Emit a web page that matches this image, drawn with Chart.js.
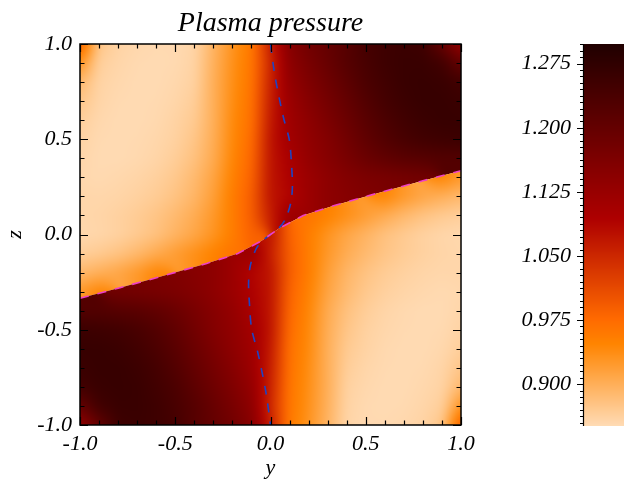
<!DOCTYPE html>
<html>
<head>
<meta charset="utf-8">
<title>Plasma pressure</title>
<script src="https://cdn.jsdelivr.net/npm/chart.js@4.4.0/dist/chart.umd.min.js"></script>
<style>
  html, body { margin: 0; padding: 0; background: #fff; }
  #wrap { position: relative; width: 624px; height: 483px; overflow: hidden; }
  #main { position: absolute; left: 0; top: 0; }
  #bar { position: absolute; left: 440px; top: 0; }
</style>
</head>
<body>
<div id="wrap">
  <canvas id="main" width="624" height="483"></canvas>
  <canvas id="bar" width="184" height="483"></canvas>
</div>
<script>
// grid columns (y) and rows (z, top to bottom)
const yCols = [-1.0, -0.9, -0.8, -0.7, -0.6, -0.5, -0.4, -0.3, -0.2, -0.1, 0.0,
               0.1, 0.2, 0.3, 0.4, 0.5, 0.6, 0.7, 0.8, 0.9, 1.0];
const zRows = [1.0, 0.9, 0.8, 0.7, 0.6, 0.5, 0.4, 0.3, 0.2, 0.1, 0.0,
               -0.1, -0.2, -0.3, -0.4, -0.5, -0.6, -0.7, -0.8, -0.9, -1.0];

// plasma pressure, one row per z
const pressure = [
  [0.99, 0.875, 0.86, 0.855, 0.853, 0.853, 0.858, 0.895, 0.93, 0.96, 1.06, 1.15, 1.18, 1.2, 1.22, 1.245, 1.255, 1.26, 1.255, 1.2, 1.13],
  [0.93, 0.865, 0.857, 0.853, 0.852, 0.853, 0.86, 0.898, 0.933, 0.963, 1.05, 1.14, 1.17, 1.195, 1.22, 1.24, 1.255, 1.262, 1.262, 1.25, 1.2],
  [0.89, 0.86, 0.855, 0.852, 0.852, 0.855, 0.862, 0.9, 0.935, 0.965, 1.055, 1.13, 1.16, 1.185, 1.21, 1.235, 1.25, 1.262, 1.265, 1.262, 1.25],
  [0.875, 0.858, 0.853, 0.852, 0.853, 0.857, 0.866, 0.9, 0.937, 0.968, 1.06, 1.12, 1.15, 1.175, 1.2, 1.225, 1.245, 1.258, 1.265, 1.265, 1.26],
  [0.865, 0.855, 0.852, 0.852, 0.854, 0.86, 0.87, 0.9, 0.94, 0.97, 1.065, 1.115, 1.14, 1.165, 1.19, 1.215, 1.235, 1.25, 1.26, 1.265, 1.265],
  [0.86, 0.853, 0.852, 0.853, 0.856, 0.862, 0.875, 0.902, 0.942, 0.975, 1.07, 1.11, 1.135, 1.155, 1.18, 1.205, 1.225, 1.24, 1.25, 1.255, 1.258],
  [0.857, 0.852, 0.852, 0.854, 0.858, 0.866, 0.88, 0.905, 0.945, 0.98, 1.07, 1.1, 1.13, 1.15, 1.17, 1.19, 1.205, 1.215, 1.22, 1.225, 1.225],
  [0.855, 0.853, 0.855, 0.858, 0.863, 0.872, 0.888, 0.912, 0.95, 0.985, 1.07, 1.095, 1.12, 1.14, 1.155, 1.165, 1.17, 1.175, 1.18, 0.945, 0.925],
  [0.857, 0.856, 0.858, 0.862, 0.868, 0.878, 0.893, 0.918, 0.955, 0.99, 1.07, 1.09, 1.12, 1.14, 1.15, 1.16, 0.945, 0.925, 0.91, 0.9, 0.89],
  [0.856, 0.858, 0.862, 0.868, 0.876, 0.888, 0.903, 0.925, 0.955, 0.99, 1.06, 1.12, 0.965, 0.95, 0.935, 0.92, 0.905, 0.89, 0.878, 0.87, 0.865],
  [0.855, 0.857, 0.862, 0.87, 0.88, 0.895, 0.91, 0.93, 0.955, 0.985, 1.07, 0.985, 0.955, 0.93, 0.91, 0.895, 0.88, 0.87, 0.862, 0.857, 0.855],
  [0.865, 0.87, 0.878, 0.89, 0.905, 0.92, 0.935, 0.95, 0.965, 1.12, 1.06, 0.99, 0.955, 0.925, 0.903, 0.888, 0.876, 0.868, 0.862, 0.858, 0.856],
  [0.89, 0.9, 0.91, 0.925, 0.945, 1.16, 1.15, 1.14, 1.12, 1.09, 1.07, 0.99, 0.955, 0.918, 0.893, 0.878, 0.868, 0.862, 0.858, 0.856, 0.857],
  [0.925, 0.945, 1.18, 1.175, 1.17, 1.165, 1.155, 1.14, 1.12, 1.095, 1.07, 0.985, 0.95, 0.912, 0.888, 0.872, 0.863, 0.858, 0.855, 0.853, 0.855],
  [1.225, 1.225, 1.22, 1.215, 1.205, 1.19, 1.17, 1.15, 1.13, 1.1, 1.07, 0.98, 0.945, 0.905, 0.88, 0.866, 0.858, 0.854, 0.852, 0.852, 0.857],
  [1.258, 1.255, 1.25, 1.24, 1.225, 1.205, 1.18, 1.155, 1.135, 1.11, 1.07, 0.975, 0.942, 0.902, 0.875, 0.862, 0.856, 0.853, 0.852, 0.853, 0.86],
  [1.265, 1.265, 1.26, 1.25, 1.235, 1.215, 1.19, 1.165, 1.14, 1.115, 1.065, 0.97, 0.94, 0.9, 0.87, 0.86, 0.854, 0.852, 0.852, 0.855, 0.865],
  [1.26, 1.265, 1.265, 1.258, 1.245, 1.225, 1.2, 1.175, 1.15, 1.12, 1.06, 0.968, 0.937, 0.9, 0.866, 0.857, 0.853, 0.852, 0.853, 0.858, 0.875],
  [1.25, 1.262, 1.265, 1.262, 1.25, 1.235, 1.21, 1.185, 1.16, 1.13, 1.055, 0.965, 0.935, 0.9, 0.862, 0.855, 0.852, 0.852, 0.855, 0.86, 0.89],
  [1.2, 1.25, 1.262, 1.262, 1.255, 1.24, 1.22, 1.195, 1.17, 1.14, 1.05, 0.963, 0.933, 0.898, 0.86, 0.853, 0.852, 0.853, 0.857, 0.865, 0.93],
  [1.13, 1.2, 1.255, 1.26, 1.255, 1.245, 1.22, 1.2, 1.18, 1.15, 1.06, 0.96, 0.93, 0.895, 0.858, 0.853, 0.853, 0.855, 0.86, 0.875, 0.99]
];

// current sheet (magenta dashed)
const sheetY = [-1.0, -0.8, -0.58, -0.335, -0.172, -0.05, 0.0, 0.05, 0.172, 0.335, 0.58, 0.8, 1.0];
const sheetZ = [-0.335, -0.282, -0.222, -0.152, -0.1, -0.035, 0.0, 0.035, 0.1, 0.152, 0.222, 0.282, 0.335];

// separatrix (blue dashed)
const sepY = [0.0, 0.024, 0.067, 0.099, 0.111, 0.115, 0.106, 0.076, 0.045, 0.0,
              -0.045, -0.076, -0.106, -0.115, -0.111, -0.099, -0.067, -0.024, 0.0];
const sepZ = [1.0, 0.828, 0.618, 0.496, 0.356, 0.251, 0.164, 0.076, 0.035, 0.0,
              -0.035, -0.076, -0.164, -0.251, -0.356, -0.496, -0.618, -0.828, -1.0];

const axisTicks = [-1.0, -0.5, 0.0, 0.5, 1.0];
const barTicks = [0.900, 0.975, 1.050, 1.125, 1.200, 1.275];
const barMin = 0.851;
const barMax = 1.298;

const SERIF = "'Liberation Serif', 'DejaVu Serif', serif";
const tickFont = { family: SERIF, style: 'italic', size: 22 };

function sheetZAt(y) {
    for (let k = 1; k < sheetY.length; k++) {
        if (y <= sheetY[k] || k === sheetY.length - 1) {
            const t = (y - sheetY[k - 1]) / (sheetY[k] - sheetY[k - 1]);
            return sheetZ[k - 1] + t * (sheetZ[k] - sheetZ[k - 1]);
        }
    }
    return 0;
}

// which side of the sheet each grid node sits on
const nodeAbove = zRows.map(z => yCols.map(y => z > sheetZAt(y)));

// nearest node on the wanted side, walking up or down one column
function sideValue(i, j, above) {
    let k = i;
    while (k >= 0 && k < zRows.length && nodeAbove[k][j] !== above) k += above ? -1 : 1;
    k = Math.min(Math.max(k, 0), zRows.length - 1);
    return pressure[k][j];
}

// bilinear inside a cell, using only the nodes on one side of the sheet
function pressureAt(y, z, above) {
    const dy = yCols[1] - yCols[0];
    const dz = zRows[0] - zRows[1];
    const fj = (y - yCols[0]) / dy;
    const fi = (zRows[0] - z) / dz;
    const j0 = Math.min(Math.max(Math.floor(fj), 0), yCols.length - 2);
    const i0 = Math.min(Math.max(Math.floor(fi), 0), zRows.length - 2);
    const ty = Math.min(Math.max(fj - j0, 0), 1);
    const tz = Math.min(Math.max(fi - i0, 0), 1);
    let sum = 0, wsum = 0;
    const corners = [
        [0, 0, (1 - tz) * (1 - ty)], [0, 1, (1 - tz) * ty],
        [1, 0, tz * (1 - ty)], [1, 1, tz * ty]
    ];
    for (const [di, dj, w] of corners) {
        if (nodeAbove[i0 + di][j0 + dj] !== above) continue;
        sum += w * pressure[i0 + di][j0 + dj];
        wsum += w;
    }
    if (wsum > 1e-6) return sum / wsum;
    return (1 - ty) * sideValue(i0, j0, above) + ty * sideValue(i0, j0 + 1, above);
}

// reversed red-temperature table
function pressureColor(v) {
    const t = Math.min(Math.max((v - barMin) / (barMax - barMin), 0), 1);
    const idx = 236 - t * 214;
    const r = Math.min(255, idx * 255 / 176);
    const g = Math.min(255, Math.max(0, (idx - 120) * 255 / 135));
    const b = Math.min(255, Math.max(0, (idx - 190) * 255 / 65));
    return [r, g, b];
}

function sideImage(chart, above, m) {
    const { chartArea: a, scales: { x, y } } = chart;
    const w = Math.round(a.right - a.left) + 2 * m;
    const h = Math.round(a.bottom - a.top) + 2 * m;
    const off = document.createElement('canvas');
    off.width = w; off.height = h;
    const octx = off.getContext('2d');
    const img = octx.createImageData(w, h);
    for (let py = 0; py < h; py++) {
        const zv = y.getValueForPixel(a.top - m + py + 0.5);
        for (let px = 0; px < w; px++) {
            const yv = x.getValueForPixel(a.left - m + px + 0.5);
            const c = pressureColor(pressureAt(yv, zv, above));
            const o = (py * w + px) * 4;
            img.data[o] = c[0]; img.data[o + 1] = c[1]; img.data[o + 2] = c[2]; img.data[o + 3] = 255;
        }
    }
    octx.putImageData(img, 0, 0);
    return off;
}

const pressureMap = {
    id: 'pressureMap',
    beforeDatasetsDraw(chart) {
        const { ctx, chartArea: a, scales: { x, y } } = chart;
        const m = 14;
        const pts = sheetY.map((v, i) => [x.getPixelForValue(v), y.getPixelForValue(sheetZ[i])]);
        [true, false].forEach(above => {
            const img = sideImage(chart, above, m);
            ctx.save();
            ctx.beginPath();
            ctx.rect(a.left, a.top, a.right - a.left, a.bottom - a.top);
            ctx.clip();
            ctx.beginPath();
            const edge = above ? a.top - 2 : a.bottom + 2;
            ctx.moveTo(a.left - 2, edge);
            pts.forEach(p => ctx.lineTo(p[0], p[1]));
            ctx.lineTo(a.right + 2, pts[pts.length - 1][1]);
            ctx.lineTo(a.right + 2, edge);
            ctx.closePath();
            ctx.clip();
            ctx.filter = 'blur(4px)';
            ctx.drawImage(img, a.left - m, a.top - m);
            ctx.restore();
        });
    }
};

// centre the title over the plot box
const titleOverPlot = {
    id: 'titleOverPlot',
    afterLayout(chart) {
        if (chart.titleBlock) {
            chart.titleBlock.left = chart.chartArea.left;
            chart.titleBlock.right = chart.chartArea.right;
        }
    }
};

const minorTicks = [];
for (let k = -10; k <= 10; k++) minorTicks.push(k / 10);

const boxTicks = {
    id: 'boxTicks',
    afterDatasetsDraw(chart) {
        const { ctx, chartArea: a, scales: { x, y } } = chart;
        ctx.save();
        ctx.strokeStyle = '#000';
        ctx.lineWidth = 1.2;
        ctx.beginPath();
        minorTicks.forEach(v => {
            const len = axisTicks.some(t => Math.abs(t - v) < 1e-9) ? 8 : 4.5;
            const px = Math.round(x.getPixelForValue(v)) + 0.5;
            ctx.moveTo(px, a.bottom); ctx.lineTo(px, a.bottom - len);
            ctx.moveTo(px, a.top); ctx.lineTo(px, a.top + len);
            const py = Math.round(y.getPixelForValue(v)) + 0.5;
            ctx.moveTo(a.left, py); ctx.lineTo(a.left + len, py);
            ctx.moveTo(a.right, py); ctx.lineTo(a.right - len, py);
        });
        ctx.stroke();
        ctx.lineWidth = 1.5;
        ctx.strokeRect(a.left, a.top, a.right - a.left, a.bottom - a.top);
        ctx.restore();
    }
};

new Chart(document.getElementById('main'), {
    type: 'scatter',
    data: {
        datasets: [
            {
                label: 'sheet',
                data: sheetY.map((v, i) => ({ x: v, y: sheetZ[i] })),
                showLine: true,
                borderColor: '#ee3fc8',
                borderWidth: 1.6,
                borderDash: [9, 9],
                pointRadius: 0,
                fill: false,
                tension: 0
            },
            {
                label: 'separatrix',
                data: sepY.map((v, i) => ({ x: v, y: sepZ[i] })),
                showLine: true,
                borderColor: '#1e44c4',
                borderWidth: 1.6,
                borderDash: [9, 9],
                pointRadius: 0,
                fill: false,
                tension: 0.3
            }
        ]
    },
    options: {
        responsive: false,
        animation: false,
        events: [],
        layout: { padding: { left: 0, right: 163, top: 0, bottom: 0 } },
        plugins: {
            legend: { display: false },
            tooltip: { enabled: false },
            title: {
                display: true,
                text: 'Plasma pressure',
                color: '#000',
                font: { family: SERIF, style: 'italic', size: 28, weight: 'normal' },
                padding: { top: 7, bottom: 3.4 }
            }
        },
        scales: {
            x: {
                type: 'linear', min: -1, max: 1, position: 'bottom',
                afterBuildTicks: s => { s.ticks = axisTicks.map(v => ({ value: v })); },
                afterFit: s => { s.height = 58; },
                ticks: { font: tickFont, color: '#000', padding: 6, maxRotation: 0, autoSkip: false,
                         callback: v => Number(v).toFixed(1) },
                grid: { display: false, drawTicks: false },
                border: { display: false },
                title: { display: true, text: 'y', color: '#000', font: tickFont, padding: { top: 0, bottom: 2 } }
            },
            y: {
                type: 'linear', min: -1, max: 1, position: 'left',
                afterBuildTicks: s => { s.ticks = axisTicks.map(v => ({ value: v })); },
                afterFit: s => { s.width = 80; },
                ticks: { font: tickFont, color: '#000', padding: 8, autoSkip: false,
                         callback: v => Number(v).toFixed(1) },
                grid: { display: false, drawTicks: false },
                border: { display: false },
                title: { display: true, text: 'z', color: '#000', font: tickFont, padding: { top: 2, bottom: 0 } }
            }
        }
    },
    plugins: [titleOverPlot, pressureMap, boxTicks]
});

// colour bar
const barStep = 0.0075;
const barMinor = [];
for (let v = barTicks[0] - 6 * barStep; v <= barMax + 1e-9; v += barStep) {
    if (v >= barMin) barMinor.push(v);
}

const colorStrip = {
    id: 'colorStrip',
    beforeDatasetsDraw(chart) {
        const { ctx, chartArea: a, scales: { y } } = chart;
        ctx.save();
        for (let py = Math.floor(a.top); py < Math.ceil(a.bottom); py++) {
            const c = pressureColor(y.getValueForPixel(py + 0.5));
            ctx.fillStyle = `rgb(${Math.round(c[0])},${Math.round(c[1])},${Math.round(c[2])})`;
            ctx.fillRect(a.left, py, a.right - a.left, 1);
        }
        ctx.strokeStyle = '#000';
        ctx.lineWidth = 1.2;
        ctx.beginPath();
        ctx.moveTo(a.left + 0.5, a.top); ctx.lineTo(a.left + 0.5, a.bottom);
        barMinor.forEach(v => {
            const major = barTicks.some(t => Math.abs(t - v) < 1e-6);
            const py = Math.round(y.getPixelForValue(v)) + 0.5;
            ctx.moveTo(a.left, py); ctx.lineTo(a.left - (major ? 6 : 3), py);
        });
        ctx.stroke();
        ctx.restore();
    }
};

new Chart(document.getElementById('bar'), {
    type: 'scatter',
    data: { datasets: [] },
    options: {
        responsive: false,
        animation: false,
        events: [],
        layout: { padding: { left: 0, right: 0, top: 44, bottom: 57 } },
        plugins: { legend: { display: false }, tooltip: { enabled: false } },
        scales: {
            x: { type: 'linear', display: false, min: 0, max: 1 },
            y: {
                type: 'linear', min: barMin, max: barMax, position: 'left',
                afterBuildTicks: s => { s.ticks = barTicks.map(v => ({ value: v })); },
                afterFit: s => { s.width = 143; },
                ticks: { font: tickFont, color: '#000', padding: 12, autoSkip: false,
                         callback: v => Number(v).toFixed(3) },
                grid: { display: false, drawTicks: false },
                border: { display: false }
            }
        }
    },
    plugins: [colorStrip]
});
</script>
</body>
</html>
